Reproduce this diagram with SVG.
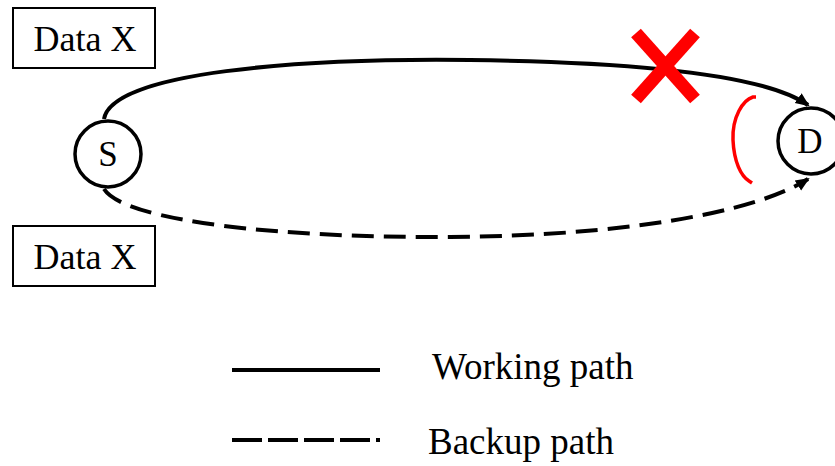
<svg xmlns="http://www.w3.org/2000/svg" width="835" height="466" viewBox="0 0 835 466">
  <defs>
    <marker id="arrow" markerWidth="14" markerHeight="14" refX="12" refY="7" orient="auto" markerUnits="userSpaceOnUse" viewBox="0 0 14 14">
      <path d="M0,1 L14,7 L0,13 Z" fill="#000"/>
    </marker>
    <style>
      .lbl { font-family: "Liberation Serif", "Times New Roman", serif; fill: #000; }
      .box { fill: #fff; stroke: #000; stroke-width: 2; }
      .node { fill: #fff; stroke: #000; stroke-width: 3.5; }
      .work { fill: none; stroke: #000; stroke-width: 4; }
      .backup { fill: none; stroke: #000; stroke-width: 4; stroke-dasharray: 22 10; }
    </style>
  </defs>
  <rect width="835" height="466" fill="#fff"/>

  <!-- connectors -->
  <g id="connectors">
    <path class="work" d="M104,119 C112,72 300,58 470,60 C640,62 765,75 808,105" marker-end="url(#arrow)"/>
    <path class="backup" d="M104,189 C125,222 285,238 450,237 C620,236 755,213 808,179" marker-end="url(#arrow)"/>
  </g>

  <!-- link failure mark -->
  <g id="failure" stroke="#f00" stroke-width="13" stroke-linecap="butt">
    <line x1="636" y1="33" x2="695" y2="99"/>
    <line x1="695" y1="33" x2="636" y2="99"/>
  </g>
  <path id="switch-arc" d="M756,97 L753,97 C743,100 732,117 733,140 C734,162 741,176 749,181 L752,183" fill="none" stroke="#f00" stroke-width="3.5"/>

  <g id="node-S">
    <circle class="node" cx="108" cy="154" r="33"/>
    <text class="lbl" x="108" y="166" font-size="35" text-anchor="middle">S</text>
  </g>
  <g id="node-D">
    <circle class="node" cx="811" cy="141" r="33"/>
    <text class="lbl" x="810" y="153" font-size="35" text-anchor="middle">D</text>
  </g>

  <g id="data-top">
    <rect class="box" x="13" y="8" width="142" height="60"/>
    <text class="lbl" x="85" y="51" font-size="36" text-anchor="middle">Data X</text>
  </g>
  <g id="data-bottom">
    <rect class="box" x="13" y="226" width="142" height="60"/>
    <text class="lbl" x="85" y="269" font-size="36" text-anchor="middle">Data X</text>
  </g>

  <g id="legend">
    <line x1="232" y1="370" x2="380" y2="370" stroke="#000" stroke-width="4"/>
    <text class="lbl" x="432" y="379" font-size="37">Working path</text>
    <line x1="232" y1="440" x2="380" y2="440" stroke="#000" stroke-width="4" stroke-dasharray="30 6"/>
    <text class="lbl" x="428" y="454" font-size="37">Backup path</text>
  </g>
</svg>
